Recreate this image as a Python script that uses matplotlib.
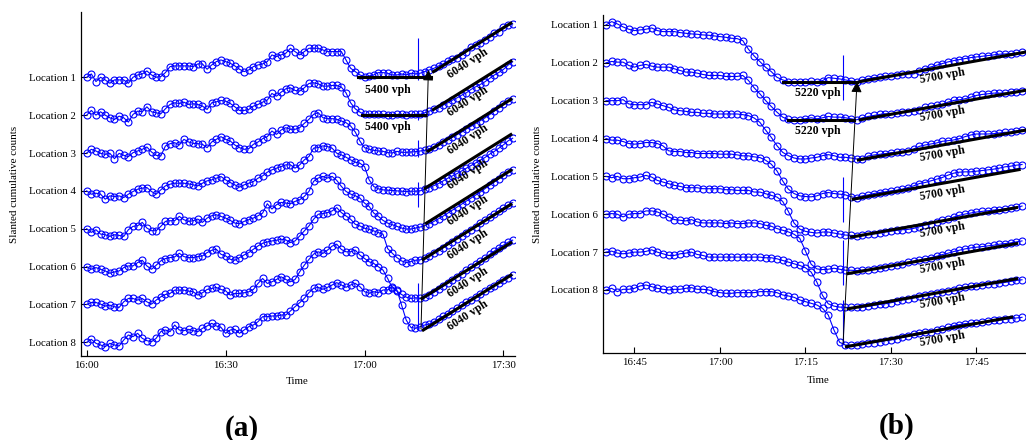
import matplotlib
matplotlib.use("Agg")
import matplotlib.pyplot as plt
import numpy as np

plt.rcParams["font.family"] = ["Liberation Serif", "DejaVu Serif"]

# ---- panel (a): one sample per minute from 16:00, slanted counts relative to first sample
a_loc1 = [0, 10, -13, 0, -8, -18, -8, -8, -8, -18,
          0, 7, 10, 19, 7, 0, 2, 14, 32, 34,
          34, 34, 34, 32, 40, 40, 24, 37, 47, 52,
          47, 42, 34, 24, 17, 22, 32, 37, 40, 47,
          67, 62, 67, 72, 87, 77, 67, 77, 87, 87,
          87, 82, 77, 77, 77, 77, 52, 27, 17, 7,
          2, 4, 7, 14, 14, 12, 7, 7, 10, 7,
          12, 10, 12, 17, 22, 27, 34, 40, 49, 54,
          57, 67, 77, 92, 97, 102, 112, 120, 132, 137,
          152, 156, 160]
a_loc2 = [0, 14, 0, 10, 0, -8, -13, -3, -8, -21,
          2, 12, 10, 25, 10, 7, 4, 19, 32, 37,
          35, 39, 32, 34, 32, 27, 17, 37, 40, 44,
          42, 35, 25, 14, 14, 17, 27, 32, 39, 45,
          65, 57, 69, 79, 82, 74, 72, 82, 95, 97,
          94, 87, 87, 89, 89, 84, 67, 37, 19, 9,
          2, 2, 2, 2, 2, 0, 0, 2, 2, 0,
          2, 2, 2, 7, 12, 17, 22, 30, 37, 45,
          52, 60, 67, 77, 85, 92, 100, 110, 120, 128,
          137, 150, 160]
a_loc3 = [0, 11, 6, -1, -4, -1, -17, -1, -7, -11,
          1, 6, 11, 18, 3, -7, -9, 21, 28, 31,
          24, 41, 33, 29, 28, 26, 16, 33, 41, 49,
          41, 36, 24, 16, 11, 13, 26, 33, 43, 49,
          66, 56, 69, 76, 71, 71, 76, 89, 101, 116,
          121, 106, 103, 103, 101, 96, 91, 81, 63, 36,
          16, 11, 8, 6, 5, 1, 0, 5, 2, 2,
          3, 4, 6, 8, 13, 18, 25, 32, 40, 47,
          55, 63, 72, 80, 88, 97, 105, 115, 125, 135,
          147, 155, 162]
a_loc4 = [0, -10, -7, -10, -25, -15, -17, -15, -20, -10,
          -2, 5, 8, 10, -2, -10, 3, 15, 20, 23,
          23, 23, 21, 18, 15, 23, 30, 33, 38, 43,
          33, 25, 18, 11, 18, 23, 28, 38, 45, 56,
          63, 68, 73, 78, 78, 68, 78, 93, 103, 128,
          130, 135, 133, 128, 113, 108, 101, 93, 86, 83,
          73, 33, 13, 6, 3, 2, 1, 0, -1, -2,
          -1, -1, 0, 5, 10, 16, 22, 30, 38, 45,
          52, 60, 68, 76, 84, 92, 100, 110, 118, 128,
          138, 150, 158]
a_loc5 = [0, -11, -3, -16, -18, -23, -18, -20, -23, -3,
          7, 9, 19, 2, -6, -6, 7, 22, 24, 24,
          37, 27, 22, 24, 29, 19, 32, 39, 42, 37,
          32, 25, 17, 15, 22, 27, 32, 39, 47, 75,
          59, 72, 79, 77, 75, 82, 87, 97, 112, 142,
          152, 157, 152, 157, 145, 127, 112, 104, 99, 92,
          77, 67, 47, 37, 25, 17, 12, 7, 2, -1,
          -1, 2, 5, 9, 15, 22, 30, 38, 47, 56,
          65, 74, 83, 92, 101, 110, 120, 130, 140, 150,
          160, 170, 177]
a_loc6 = [0, -8, -3, -8, -13, -20, -16, -13, -3, 2,
          2, 12, 19, 2, -8, 4, 17, 24, 27, 29,
          40, 30, 27, 27, 30, 32, 42, 49, 52, 37,
          32, 22, 19, 27, 35, 42, 52, 62, 70, 74,
          77, 79, 82, 80, 72, 77, 92, 107, 122, 142,
          157, 159, 162, 167, 177, 162, 152, 142, 127, 122,
          115, 112, 107, 102, 97, 54, 40, 27, 17, 12,
          15, 19, 20, 27, 32, 40, 48, 57, 66, 75,
          84, 93, 102, 111, 120, 130, 140, 148, 157, 166,
          176, 185, 192]
a_loc7 = [0, 6, 6, 1, -5, -2, -7, -9, 8, 18,
          18, 13, 18, 8, 1, 13, 23, 30, 33, 43,
          43, 43, 40, 38, 28, 35, 45, 48, 51, 45,
          41, 28, 33, 33, 35, 38, 45, 63, 78, 63,
          68, 75, 83, 75, 68, 75, 98, 118, 135, 151,
          158, 153, 163, 175, 181, 165, 158, 158, 163, 148,
          138, 128, 123, 113, 103, 78, 50, 40, 30, 22,
          18, 20, 18, 23, 28, 36, 45, 54, 63, 72,
          82, 92, 102, 112, 122, 130, 140, 150, 160, 170,
          178, 187, 193]
a_loc8 = [0, 9, -3, -8, -13, -3, -8, -11, 7, 22,
          17, 27, 12, 5, 2, 12, 32, 37, 32, 52,
          37, 35, 39, 35, 32, 42, 49, 57, 49, 45,
          27, 37, 39, 27, 37, 47, 52, 62, 77, 77,
          79, 79, 82, 82, 94, 107, 119, 132, 149, 162,
          165, 159, 165, 172, 179, 172, 165, 172, 177, 167,
          152, 147, 152, 149, 157, 157, 167, 157, 112, 67,
          45, 42, 47, 52, 55, 62, 70, 78, 86, 94,
          103, 112, 120, 128, 137, 145, 153, 162, 170, 178,
          186, 194, 202]

# ---- panel (b): one sample per minute from 16:40
b_loc1 = [0, 10, 3, -6, -13, -17, -15, -13, -9, -17,
          -20, -20, -20, -23, -25, -27, -28, -30, -31, -33,
          -35, -37, -40, -41, -47, -73, -93, -110, -127, -140,
          -157, -165, -170, -172, -172, -172, -169, -170, -167, -158,
          -160, -162, -165, -168, -170, -165, -161, -158, -156, -154,
          -153, -151, -148, -147, -147, -138, -131, -126, -121, -116,
          -111, -107, -104, -101, -98, -96, -94, -92, -90, -88,
          -87, -86, -85, -82]
b_loc2 = [0, 4, 2, 2, -8, -13, -8, -5, -10, -13,
          -13, -13, -18, -23, -28, -28, -31, -35, -38, -38,
          -38, -41, -41, -41, -38, -53, -75, -93, -113, -131,
          -148, -163, -170, -173, -171, -168, -165, -168, -165, -161,
          -163, -163, -165, -168, -171, -165, -161, -158, -155, -153,
          -153, -151, -148, -148, -145, -141, -133, -131, -128, -125,
          -118, -113, -111, -108, -103, -98, -95, -93, -91, -91,
          -91, -88, -88, -85]
b_loc3 = [0, 0, 0, 3, -10, -12, -12, -12, -5, -10,
          -15, -20, -28, -30, -32, -35, -35, -38, -38, -40,
          -40, -40, -40, -40, -42, -45, -52, -65, -88, -110,
          -135, -155, -165, -172, -175, -175, -172, -170, -165, -162,
          -165, -170, -170, -172, -175, -175, -166, -163, -161, -159,
          -156, -155, -154, -150, -145, -137, -133, -130, -127, -122,
          -120, -118, -114, -108, -103, -100, -100, -100, -99, -97,
          -95, -95, -91, -87]
b_loc4 = [0, -5, -5, -9, -15, -17, -15, -12, -12, -15,
          -22, -37, -39, -39, -42, -42, -45, -45, -45, -45,
          -47, -47, -47, -49, -52, -52, -55, -57, -65, -77,
          -97, -127, -152, -165, -172, -174, -175, -172, -165, -162,
          -165, -167, -169, -175, -177, -172, -169, -165, -162, -160,
          -157, -155, -152, -147, -142, -135, -132, -127, -122, -117,
          -110, -104, -101, -100, -100, -98, -96, -94, -92, -89,
          -85, -83, -80, -78]
b_loc5 = [0, -4, 0, -7, -7, -4, -2, 3, -2, -12,
          -17, -22, -27, -30, -34, -34, -34, -37, -37, -37,
          -37, -40, -40, -42, -42, -42, -47, -47, -52, -57,
          -62, -75, -105, -140, -158, -165, -168, -170, -167, -167,
          -170, -173, -176, -177, -178, -176, -173, -172, -170, -167,
          -164, -162, -160, -159, -156, -151, -146, -142, -137, -132,
          -129, -122, -117, -113, -110, -107, -105, -103, -101, -100,
          -97, -95, -93, -89]
b_loc6 = [0, 2, 0, -8, 0, 2, 2, 10, 10, 7,
          0, -8, -16, -18, -20, -16, -23, -26, -26, -26,
          -26, -28, -26, -28, -28, -26, -26, -28, -33, -36,
          -43, -48, -53, -60, -72, -110, -150, -164, -166, -165,
          -162, -165, -168, -168, -169, -168, -166, -163, -160, -158,
          -156, -152, -148, -144, -141, -138, -134, -130, -126, -121,
          -117, -112, -108, -104, -101, -99, -97, -95, -93, -90,
          -88, -86, -83, -80]
b_loc7 = [0, 3, -3, -5, -3, 0, 0, 2, 7, 0,
          -5, -10, -10, -5, -3, 0, -7, -10, -15, -15,
          -15, -15, -15, -15, -15, -15, -15, -15, -17, -17,
          -20, -25, -30, -35, -40, -47, -60, -90, -130, -155,
          -162, -165, -166, -166, -166, -165, -163, -160, -157, -155,
          -152, -148, -143, -140, -137, -133, -130, -127, -122, -119,
          -116, -113, -108, -105, -103, -101, -99, -97, -95, -93,
          -91, -88, -85, -83]
b_loc8 = [0, 5, -5, 2, 2, 5, 12, 15, 10, 5,
          2, 0, 2, 2, 5, 7, 2, 2, 0, -5,
          -8, -10, -10, -8, -8, -8, -8, -5, -5, -5,
          -8, -15, -18, -22, -30, -35, -40, -45, -55, -75,
          -120, -157, -165, -166, -165, -162, -160, -158, -155, -152,
          -150, -147, -142, -138, -133, -129, -127, -125, -121, -117,
          -112, -107, -104, -101, -100, -98, -96, -93, -91, -90,
          -88, -86, -84, -82]

locations = ["Location %d" % i for i in range(1, 9)]
a_ticks, a_ticklabels = [0, 30, 60, 90], ["16:00", "16:30", "17:00", "17:30"]
b_ticks, b_ticklabels = [5, 20, 35, 50, 65], ["16:45", "17:00", "17:15", "17:30", "17:45"]

# fitted flow lines: (start minute, start value) per location
a_rise_start = [(74.9, 17), (74.9, 17), (73.8, 6), (73.1, 8), (73.4, 17), (72.7, 22), (72.4, 18), (72.7, 37)]
a_flat = [(58.5, 74.3), (59.4, 73.0)]          # 5400 vph, locations 1-2
b_rise_start = [(44.6, -170), (44.6, -171), (44.3, -178), (43.4, -182), (43.1, -182), (42.5, -178), (42.5, -170), (42.2, -170)]
b_rise_end = [73.7, 73.7, 73.7, 72.5, 72.05, 72.05, 72.05, 71.2]
b_flat = [(31.1, 44.0, -170), (32.0, 43.5, -171)]   # 5220 vph, locations 1-2

step = 113.6   # vertical spacing between locations
a_series = [a_loc1, a_loc2, a_loc3, a_loc4, a_loc5, a_loc6, a_loc7, a_loc8]
b_series = [b_loc1, b_loc2, b_loc3, b_loc4, b_loc5, b_loc6, b_loc7, b_loc8]
base = [(7 - i) * step for i in range(8)]

fig = plt.figure(figsize=(10.26, 4.4), dpi=100)
axa = fig.add_axes([81 / 1026, 84 / 440, 434 / 1026, 344 / 440])
axb = fig.add_axes([603.3 / 1026, 86.7 / 440, 422.7 / 1026, 338.3 / 440])

style = dict(color="blue", marker="o", mfc="none", ms=5, mew=0.8, lw=0.8)
for ax, series in ((axa, a_series), (axb, b_series)):
    for i, s in enumerate(series):
        ax.plot(np.arange(len(s)), base[i] + np.array(s), **style)

# panel (a) annotations
slope_a = 8.7
for i, (t0, v0) in enumerate(a_rise_start):
    t1 = 91.6
    axa.plot([t0, t1], [base[i] + v0, base[i] + v0 + slope_a * (t1 - t0)], color="k", lw=2.2, zorder=5)
    tm = 82.4
    axa.text(tm, base[i] + v0 + slope_a * (tm - t0) - 40, "6040 vph", rotation=33, ha="center", va="center",
             fontsize=8.5, fontweight="bold", rotation_mode="anchor")
for i, (t0, t1) in enumerate(a_flat):
    axa.plot([t0, t1], [base[i], base[i]], color="k", lw=2.2, zorder=5)
    axa.text(65.1, base[i] - 37, "5400 vph", ha="center", va="center", fontsize=8.5, fontweight="bold")
for y0, y1 in [(913, 787), (697, 667), (607, 556), (481, 406), (178, 37)]:
    axa.vlines(71.56, y1, y0, color="blue", lw=0.8)
axa.annotate("", xy=(73.8, base[0] + 22), xytext=(72.2, base[7] + 40),
             arrowprops=dict(arrowstyle="-|>", color="k", lw=0.7, mutation_scale=16, shrinkA=0, shrinkB=0), zorder=6)

# panel (b) annotations
slope_b = 3.05
for i, (t0, v0) in enumerate(b_rise_start):
    t1 = b_rise_end[i]
    axb.plot([t0, t1], [base[i] + v0, base[i] + v0 + slope_b * (t1 - t0)], color="k", lw=2.2, zorder=5)
    tm = 59.0
    axb.text(tm, base[i] + v0 + slope_b * (tm - t0) - 28, "5700 vph", rotation=10, ha="center", va="center",
             fontsize=8.5, fontweight="bold", rotation_mode="anchor")
for i, (t0, t1, v) in enumerate(b_flat):
    axb.plot([t0, t1], [base[i] + v, base[i] + v], color="k", lw=2.2, zorder=5)
    axb.text(37.25, base[i] + v - 33, "5220 vph", ha="center", va="center", fontsize=8.5, fontweight="bold")
for y0, y1 in [(705, 570), (339, 204), (150, 15), (-30, -160)]:
    axb.vlines(41.6, y1, y0, color="blue", lw=0.8)
axb.annotate("", xy=(44.05, base[0] - 170), xytext=(41.6, base[7] - 162),
             arrowprops=dict(arrowstyle="-|>", color="k", lw=0.7, mutation_scale=16, shrinkA=0, shrinkB=0), zorder=6)

for ax, ticks, labels, xlim, ylim in ((axa, a_ticks, a_ticklabels, (-1.23, 92.5), (-41, 991)),
                                      (axb, b_ticks, b_ticklabels, (-0.47, 73.7), (-190, 825))):
    ax.set_xlim(*xlim)
    ax.set_ylim(*ylim)
    ax.set_xticks(ticks)
    ax.set_xticklabels(labels)
    ax.set_yticks(base)
    ax.set_yticklabels(locations)
    for side in ("top", "right"):
        ax.spines[side].set_visible(False)
    for side in ("left", "bottom"):
        ax.spines[side].set_linewidth(0.9)
    ax.tick_params(direction="in", length=4, width=0.8, labelsize=7.8, pad=3.6)

fig.text(15 / 1026, 1 - 184 / 440, "Slanted cumulative counts", rotation=90, ha="center", va="center", fontsize=8)
fig.text(538 / 1026, 1 - 184 / 440, "Slanted cumulative counts", rotation=90, ha="center", va="center", fontsize=8)
fig.text(297 / 1026, 1 - 381.5 / 440, "Time", ha="center", va="center", fontsize=7.8)
fig.text(818 / 1026, 1 - 380 / 440, "Time", ha="center", va="center", fontsize=7.8)
fig.text(241.7 / 1026, 1 - 428 / 440, "(a)", ha="center", va="center", fontsize=21, fontweight="bold")
fig.text(896.7 / 1026, 1 - 426.7 / 440, "(b)", ha="center", va="center", fontsize=21, fontweight="bold")

fig.savefig("out.png", dpi=100)
